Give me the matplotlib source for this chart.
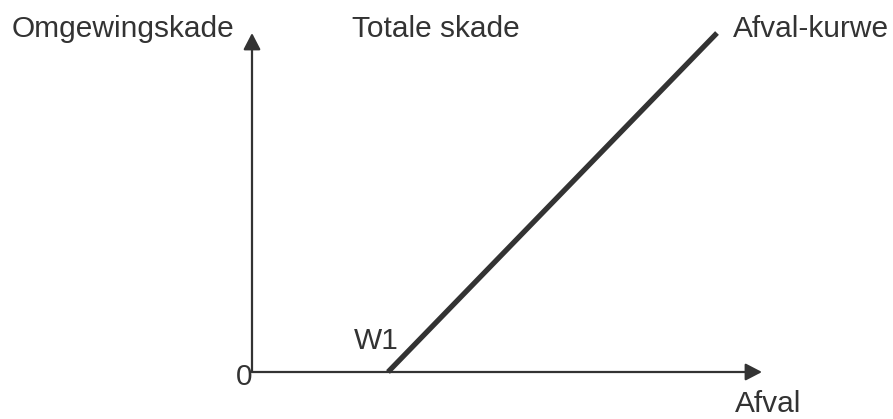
import matplotlib
matplotlib.use("Agg")
import matplotlib.pyplot as plt
from matplotlib.patches import FancyArrowPatch

# data (in chart units: origin at 0, W1 is where damage starts)
curve_x = [136, 465]      # afval
curve_y = [0, 339]        # omgewingskade
x_axis_end = 510
y_axis_end = 339
labels = {
    "ylabel": "Omgewingskade",
    "total": "Totale skade",
    "curve": "Afval-kurwe",
    "w1": "W1",
    "zero": "0",
    "xlabel": "Afval",
}

plt.rcParams['font.family'] = ['Liberation Sans', 'DejaVu Sans']
ink = '#333333'

fig = plt.figure(figsize=(8.93, 4.19), dpi=100)
ax = fig.add_axes([0, 0, 1, 1])
ax.set_xlim(-252, 641)
ax.set_ylim(-47, 372)
ax.axis('off')

def arrow(x0, y0, x1, y1):
    p = FancyArrowPatch((x0, y0), (x1, y1),
                        arrowstyle='-|>,head_length=10,head_width=5.2',
                        mutation_scale=1, shrinkA=0, shrinkB=0,
                        color=ink, lw=1.6)
    ax.add_patch(p)

arrow(0, 0, x_axis_end, 0)
arrow(0, 0, 0, y_axis_end)

ax.plot(curve_x, curve_y, color=ink, lw=3.8, solid_capstyle='butt')

fs = 21.5
ax.text(-240, 335, labels["ylabel"], fontsize=fs, color=ink, ha='left', va='baseline')
ax.text(100, 335, labels["total"], fontsize=fs, color=ink, ha='left', va='baseline')
ax.text(481, 335, labels["curve"], fontsize=fs, color=ink, ha='left', va='baseline')
ax.text(102, 23, labels["w1"], fontsize=fs, color=ink, ha='left', va='baseline')
ax.text(0, -13, labels["zero"], fontsize=fs, color=ink, ha='right', va='baseline')
ax.text(483, -40, labels["xlabel"], fontsize=fs, color=ink, ha='left', va='baseline')

fig.savefig('out.png', dpi=100)
